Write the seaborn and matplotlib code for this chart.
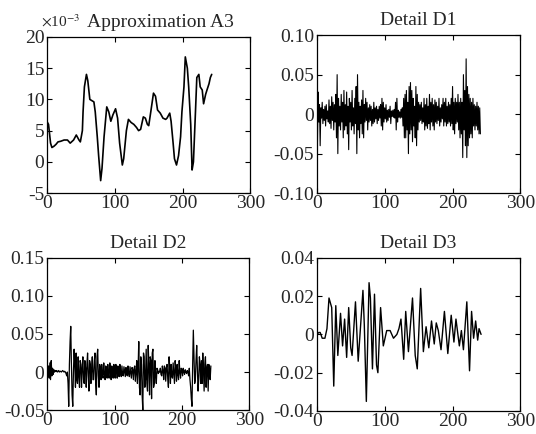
import numpy as np
import matplotlib
matplotlib.use("Agg")
import matplotlib.pyplot as plt
import seaborn as sns

# Approximation A3, read at irregular sample positions (units of 1e-3)
a3_x = [0, 2, 5, 7, 10, 13, 16, 20, 25, 30, 34, 39, 43, 47, 49, 52, 53, 55, 58, 60,
        63, 66, 69, 71, 74, 76, 79, 81, 84, 88, 91, 94, 97, 101, 104, 107, 111, 113, 117, 120,
        124, 128, 132, 135, 138, 142, 145, 148, 150, 153, 157, 160, 163, 167, 171, 175, 177, 181, 183, 186,
        188, 191, 194, 197, 199, 202, 204, 207, 209, 212, 214, 216, 219, 221, 224, 226, 229, 231, 234, 236,
        239, 241, 243]
a3_milli = [6.4, 6.0, 3.0, 2.3, 2.5, 2.8, 3.2, 3.3, 3.5, 3.5, 3.0, 3.5, 4.3, 3.5, 3.2, 5.0, 8.0, 12.0, 14.0, 13.0,
            10.0, 9.8, 9.6, 8.0, 4.0, 1.0, -3.0, -1.0, 4.0, 8.8, 8.0, 6.5, 7.5, 8.5, 7.0, 3.0, -0.5, 0.5, 5.0, 6.8,
            6.3, 6.0, 5.5, 5.0, 5.2, 7.2, 7.0, 6.0, 5.8, 8.0, 11.0, 10.5, 8.3, 7.8, 7.0, 6.8, 7.0, 7.8, 6.5, 3.0,
            0.5, -0.5, 1.0, 4.0, 8.0, 12.0, 16.8, 15.0, 12.0, 6.0, -1.3, 0.0, 8.0, 13.5, 14.0, 12.0, 11.5, 9.3, 10.8, 11.5,
            12.5, 13.5, 14.0]

# Detail D1, one value per sample (units of 1e-3)
d1_milli = [
    5, -35, 28, -10, 12, -40, 8, -5, 15, -12,
    6, -8, 10, -15, 12, -6, 4, -10, 18, -12,
    10, -18, 22, -8, 15, -20, 12, -10, 25, -30,
    50, -50, 20, -15, 10, -20, 25, -10, 15, -30,
    30, -20, 12, -15, 28, -25, 10, -45, 20, -10,
    15, -20, 30, -15, 8, -25, 20, -12, 35, -50,
    50, -20, 15, -30, 10, -12, 18, -25, 30, -30,
    12, -10, 20, -8, 15, -20, 8, -10, 12, -8,
    10, -15, 6, -12, 15, -10, 8, -6, 10, -12,
    6, -8, 10, -5, 12, -15, 20, -20, 15, -10,
    8, -6, 12, -10, 5, -8, 6, -4, 10, -12,
    4, -3, 5, -4, 6, -5, 15, -20, 20, -10,
    5, -4, 3, -5, 6, -4, 8, -15, 20, -30,
    25, -30, 30, -20, 15, -50, 35, -25, 40, -20,
    30, -35, 20, -15, 10, -30, 35, -40, 25, -20,
    15, -10, 12, -8, 15, -12, 8, -10, 20, -20,
    12, -15, 20, -18, 10, -12, 25, -20, 15, -10,
    20, -15, 12, -20, 18, -10, 15, -12, 10, -8,
    20, -15, 8, -10, 12, -6, 20, -15, 15, -10,
    20, -15, 10, -12, 15, -10, 12, -15, 20, -12,
    35, -20, 15, -25, 20, -12, 15, -10, 25, -20,
    15, -30, 20, -25, 15, -55, 50, -20, 30, -40,
    70, -55, 35, -40, 25, -30, 20, -25, 15, -30,
    20, -15, 12, -20, 10, -15, 15, -20, 10, -25,
    8, -25]

# Detail D2, one value per sample (units of 1e-3)
d2_milli = [
    2, -5, 8, -8, 12, -10, 15, -5, 5, -3,
    3, 0, 2, 1, 2, 0, 1, 2, 0, 1,
    1, 0, 1, 2, 1, 0, 1, 0, -2, -5,
    0, -15, -45, 10, 40, 60, 10, -30, -45, 0,
    30, 10, -20, 25, -10, -15, 20, -5, -20, 15,
    10, -20, 5, 20, -10, -15, 15, 5, -20, 10,
    25, -5, -25, 15, 10, -15, 5, 20, -10, -10,
    15, 25, -15, -30, 20, 30, -5, -20, 10, 5,
    -10, 10, -5, -8, 12, -3, -10, 8, 5, -8,
    10, -5, -8, 12, 3, -10, 8, -2, -8, 10,
    -3, -8, 10, 2, -8, 8, -5, -6, 10, -2,
    -6, 8, -4, -5, 7, 0, -6, 6, -3, -5,
    8, -2, -6, 7, 0, -8, 6, 3, -10, 5,
    8, -12, 0, 15, -15, 5, 40, -20, -30, 20,
    10, -30, -50, 25, 20, -20, -10, 30, -15, -25,
    35, 10, -30, 20, 15, -35, 25, 30, -20, -15,
    15, -5, -15, 5, 3, -2, 1, 0, 5, -3,
    -5, 8, 2, -10, 8, 5, -12, 6, 10, -8,
    -20, 20, 5, -15, 10, -5, -8, 12, -2, -15,
    15, 5, -12, 10, -3, -10, 15, 0, -8, 5,
    3, -5, 5, 0, -3, 3, 0, -2, 2, 0,
    -5, 5, -10, -20, -35, -45, 10, 55, 20, -15,
    -10, 15, 35, 5, -25, -10, 20, 10, -15, 15,
    -15, 25, 5, -25, 10, 20, -20, 5, 10, -25,
    10, 5, -10, 8]

# Detail D3, read at its turning points (units of 1e-3)
d3_x = [0, 3, 5, 8, 12, 15, 18, 22, 25, 28, 31, 35, 38, 41, 44, 47, 50, 52, 57, 61,
        65, 68, 70, 73, 77, 79, 82, 85, 88, 90, 94, 98, 103, 108, 113, 118, 121, 124, 128, 131,
        135, 141, 145, 148, 153, 157, 161, 165, 169, 173, 176, 179, 183, 188, 193, 198, 202, 205, 210, 213,
        216, 221, 225, 228, 231, 234, 237, 239, 242]
d3_milli = [0, 1, 1, -2, -2, 3, 19, 14, -27, 15, -11, 11, -6, 8, -12, 14, -7, -11, 17, -14,
            7, 23, 5, -35, 27, 19, -18, 21, -16, -20, 14, -6, 2, 2, -2, 0, 3, 8, -13, 12,
            -9, 19, -11, -18, 24, -9, 4, -7, 7, -5, 6, 2, -8, 12, -10, 10, -4, 8, -6, 2,
            -8, 17, -19, 12, -2, 7, -3, 3, 0]

titles = ["Approximation A3", "Detail D1", "Detail D2", "Detail D3"]
x_ticks = [0, 100, 200, 300]
a3_yticks = [-5, 0, 5, 10, 15, 20]
a3_ylabels = ["-5", "0", "5", "10", "15", "20"]
d1_yticks = [-0.10, -0.05, 0, 0.05, 0.10]
d1_ylabels = ["-0.10", "-0.05", "0", "0.05", "0.10"]
d2_yticks = [-0.05, 0, 0.05, 0.10, 0.15]
d2_ylabels = ["-0.05", "0", "0.05", "0.10", "0.15"]
d3_yticks = [-0.04, -0.02, 0, 0.02, 0.04]
d3_ylabels = ["-0.04", "-0.02", "0", "0.02", "0.04"]

sns.set_theme(style="ticks", rc={
    "xtick.direction": "in", "ytick.direction": "in",
    "xtick.top": True, "ytick.right": True,
    "axes.edgecolor": "black", "axes.linewidth": 0.9,
})
plt.rcParams["font.family"] = ["Liberation Serif", "DejaVu Serif"]
plt.rcParams["mathtext.fontset"] = "stix"
plt.rcParams["axes.unicode_minus"] = False

fig = plt.figure(figsize=(5.36, 4.34), dpi=100)
boxes = [[0.088, 0.555, 0.379, 0.360], [0.591, 0.555, 0.380, 0.364],
         [0.088, 0.055, 0.377, 0.351], [0.591, 0.053, 0.380, 0.353]]

series = [
    (a3_x, np.array(a3_milli), a3_yticks, a3_ylabels, 1.2),
    (np.arange(len(d1_milli)), np.array(d1_milli) / 1000, d1_yticks, d1_ylabels, 0.8),
    (np.arange(len(d2_milli)), np.array(d2_milli) / 1000, d2_yticks, d2_ylabels, 0.9),
    (d3_x, np.array(d3_milli) / 1000, d3_yticks, d3_ylabels, 1.0),
]

for box, (xs, ys, yt, yl, lw), title in zip(boxes, series, titles):
    ax = fig.add_axes(box)
    sns.lineplot(x=xs, y=ys, ax=ax, color="black", linewidth=lw)
    ax.set_xlim(0, 300)
    ax.set_ylim(yt[0], yt[-1])
    ax.set_xticks(x_ticks)
    ax.set_xticklabels([str(t) for t in x_ticks])
    ax.set_yticks(yt)
    ax.set_yticklabels(yl)
    ax.tick_params(labelsize=14, length=3.5, width=0.8, color="black", pad=2)
    ax.tick_params(axis="x", pad=1.5)
    for s in ax.spines.values():
        s.set_visible(True)
    if title.startswith("Approx"):
        ax.set_title(title, fontsize=14, x=0.56, pad=7)
        ax.text(-0.03, 1.065, r"$\times$10$^{-3}$", transform=ax.transAxes,
                fontsize=11, va="baseline", ha="left")
    else:
        ax.set_title(title, fontsize=14, pad=7)

fig.savefig("out.png", dpi=100)
